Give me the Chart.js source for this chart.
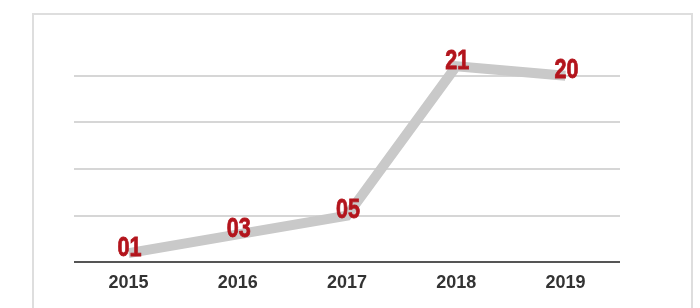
<!DOCTYPE html>
<html>
<head>
<meta charset="utf-8">
<script src="https://cdn.jsdelivr.net/npm/chart.js@4/dist/chart.umd.min.js"></script>
<style>
  html, body { margin: 0; padding: 0; background: #fff; }
  #wrap { position: relative; width: 700px; height: 308px; overflow: hidden; }
  #frame { position: absolute; left: 32px; top: 13px; width: 657px; height: 320px; border: 2px solid #dedede; }
  #chart { position: absolute; left: 0; top: 0; }
</style>
</head>
<body>
<div id="wrap">
  <div id="frame"></div>
  <canvas id="chart" width="700" height="308"></canvas>
</div>
<script>
const years = ['2015', '2016', '2017', '2018', '2019'];
const values = [1, 3, 5, 21, 20];
const yTicks = [0, 5, 10, 15, 20, 25];

// etiquetas rojas encima de cada punto (letra estrecha)
const valueLabels = {
  id: 'valueLabels',
  afterDatasetsDraw(chart) {
    const ctx = chart.ctx;
    const meta = chart.getDatasetMeta(0);
    const sx = 0.8;
    ctx.save();
    ctx.fillStyle = '#b3141c';
    ctx.font = 'bold 27px "Liberation Sans", Arial, sans-serif';
    ctx.textAlign = 'center';
    ctx.textBaseline = 'middle';
    meta.data.forEach((pt, i) => {
      const txt = String(values[i]).padStart(2, '0');
      ctx.save();
      ctx.translate(pt.x + 1, pt.y - 5);
      ctx.scale(sx, 1);
      ctx.strokeStyle = '#b3141c';
      ctx.lineWidth = 0.8;
      ctx.strokeText(txt, 0, 0);
      ctx.fillText(txt, 0, 0);
      ctx.restore();
    });
    ctx.restore();
  }
};

const chart = new Chart(document.getElementById('chart'), {
  type: 'line',
  data: {
    labels: years,
    datasets: [{
      data: values,
      borderColor: '#c9c9c9',
      borderWidth: 10,
      borderJoinStyle: 'miter',
      borderCapStyle: 'butt',
      pointRadius: 0,
      tension: 0,
      clip: false
    }]
  },
  options: {
    responsive: false,
    animation: false,
    layout: { padding: { left: 74, right: 80, top: 29, bottom: 12 } },
    plugins: { legend: { display: false }, tooltip: { enabled: false } },
    scales: {
      x: {
        offset: true,
        grid: { display: false },
        border: { display: false },
        ticks: {
          color: '#333',
          padding: 2,
          font: { family: '"Liberation Sans", Arial, sans-serif', size: 18, weight: 'bold' }
        }
      },
      y: {
        min: yTicks[0],
        max: yTicks[yTicks.length - 1],
        afterBuildTicks: (axis) => { axis.ticks = yTicks.map(v => ({ value: v })); },
        ticks: { display: false },
        border: { display: false },
        grid: {
          drawTicks: false,
          lineWidth: 2,
          color: (c) => c.tick.value === 0 ? '#555' : (c.tick.value === 25 ? 'rgba(0,0,0,0)' : '#d6d6d6')
        }
      }
    }
  },
  plugins: [valueLabels]
});
</script>
</body>
</html>
